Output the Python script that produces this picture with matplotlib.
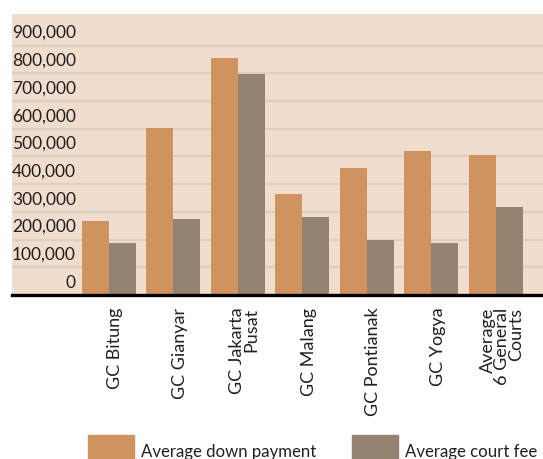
import matplotlib
matplotlib.use('Agg')
import matplotlib.pyplot as plt
import matplotlib.transforms as mtransforms
import numpy as np

plt.rcParams['font.family'] = ['Lato', 'DejaVu Sans']

# values (rupiah)
courts = ['GC Bitung', 'GC Gianyar', 'GC Jakarta\nPusat', 'GC Malang',
          'GC Pontianak', 'GC Yogya', 'Average\n6 General\nCourts']
down_payment = [268000, 603000, 854000, 364000, 457000, 518000, 507000]
court_fee = [186000, 275000, 797000, 282000, 197000, 186000, 318000]
series_names = ['Average down payment', 'Average court fee']
y_ticks = [0, 100000, 200000, 300000, 400000, 500000, 600000, 700000, 800000, 900000]

c_down = '#d0935f'
c_fee = '#958371'
bg = '#f0ddcd'
grid_c = '#dccec2'

fig = plt.figure(figsize=(5.43, 4.59), dpi=100)
ax = fig.add_axes([12 / 543, 164 / 459, 531 / 543, 281 / 459])
ax.set_facecolor(bg)

x = np.arange(len(courts))
w = 0.42
ax.bar(x - w / 2, down_payment, w, color=c_down, zorder=3)
ax.bar(x + w / 2, court_fee, w, color=c_fee, zorder=3)

ax.set_xlim(-1.5, 6.73)
ax.set_ylim(0, 1014000)

for v in y_ticks[1:]:
    ax.axhline(v, color=grid_c, lw=1.6, zorder=1)
ax.axhline(0, color='black', lw=2.4, zorder=4, clip_on=False)

off = mtransforms.ScaledTranslation(0, 12.5 / 100, fig.dpi_scale_trans)
trans = mtransforms.blended_transform_factory(ax.transAxes, ax.transData) + off
for v in y_ticks:
    ax.text(0.1205, v, f'{v:,}', transform=trans, ha='right', va='center',
            fontsize=12.5, color='#231f20')

ax.set_xticks(x + 0.1)
ax.set_xticklabels(courts, rotation=90, fontsize=13, color='#231f20',
                   multialignment='right', linespacing=0.85)
ax.tick_params(axis='x', length=0, pad=9)
ax.set_yticks([])
for s in ax.spines.values():
    s.set_visible(False)

# legend along the bottom edge
for (px, name, col) in [(88, series_names[0], c_down), (352, series_names[1], c_fee)]:
    fig.patches.append(plt.Rectangle((px / 543, 0), 46 / 543, 24 / 459,
                                     transform=fig.transFigure, color=col))
    fig.text((px + 53) / 543, 2 / 459, name, fontsize=12.1, color='#231f20',
             ha='left', va='baseline')

fig.savefig('out.png', dpi=100)
